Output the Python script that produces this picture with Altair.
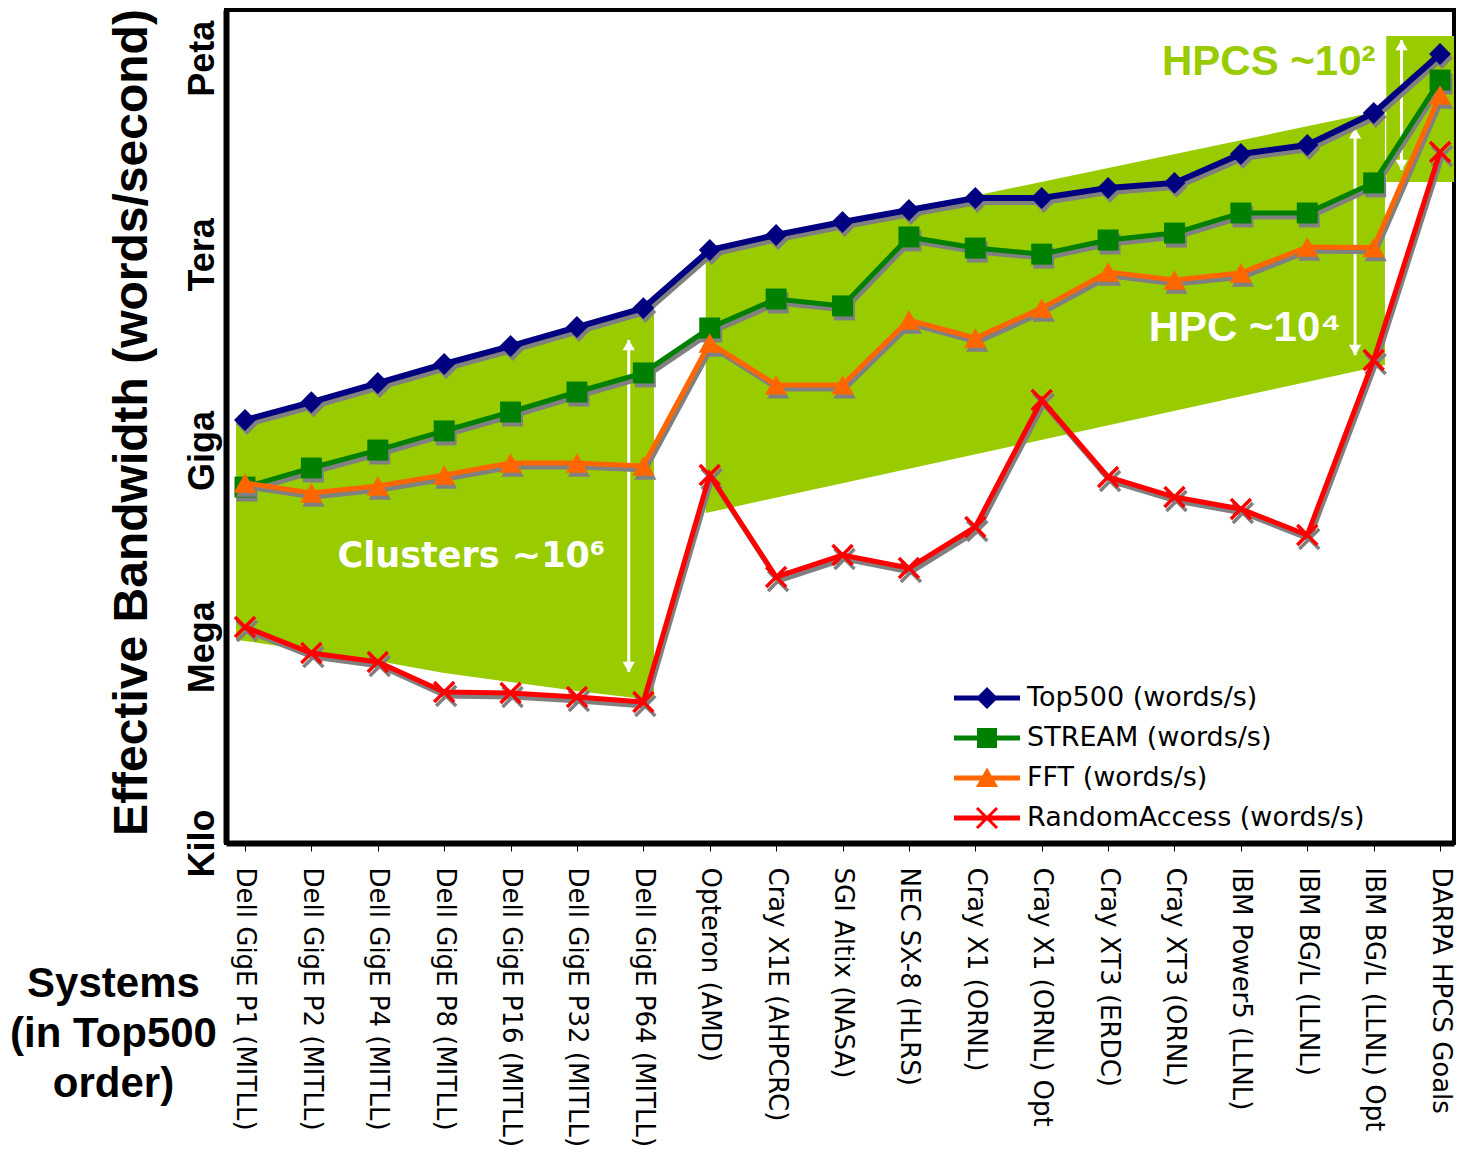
import json
import altair as alt
import pandas as pd

systems = [
    "Dell GigE P1 (MITLL)", "Dell GigE P2 (MITLL)", "Dell GigE P4 (MITLL)",
    "Dell GigE P8 (MITLL)", "Dell GigE P16 (MITLL)", "Dell GigE P32 (MITLL)",
    "Dell GigE P64 (MITLL)", "Opteron (AMD)", "Cray X1E (AHPCRC)",
    "SGI Altix (NASA)", "NEC SX-8 (HLRS)", "Cray X1 (ORNL)", "Cray X1 (ORNL) Opt",
    "Cray XT3 (ERDC)", "Cray XT3 (ORNL)", "IBM Power5 (LLNL)", "IBM BG/L (LLNL)",
    "IBM BG/L (LLNL) Opt", "DARPA HPCS Goals",
]

top500 = [2.94e9, 5.5e9, 1.08e10, 2.11e10, 3.97e10, 7.76e10, 1.51e11, 1.17e12,
          1.98e12, 3.13e12, 4.77e12, 7.28e12, 7.28e12, 1.04e13, 1.24e13, 3.43e13,
          4.71e13, 1.45e14, 1.16e15]
stream = [2.77e8, 5.42e8, 1.02e9, 2.0e9, 3.89e9, 7.87e9, 1.54e10, 7.5e10,
          2.08e11, 1.63e11, 1.85e12, 1.25e12, 1.01e12, 1.66e12, 2.12e12, 4.3e12,
          4.3e12, 1.24e13, 4.64e14]
fft = [3.2e8, 2.25e8, 2.88e8, 4.24e8, 6.46e8, 6.46e8, 5.82e8, 4.42e10,
       1.01e10, 1.01e10, 9.93e10, 5.27e10, 1.51e11, 5.38e11, 4.06e11, 5.2e11,
       1.3e12, 1.27e12, 2.74e14]
randomaccess = [2.01e6, 8.04e5, 5.86e5, 2.04e5, 1.97e5, 1.71e5, 1.43e5, 4.24e8,
                1.17e7, 2.53e7, 1.6e7, 6.79e7, 5.94e9, 3.95e8, 1.95e8, 1.28e8,
                5.12e7, 2.43e10, 3.68e13]

series_names = ["Top500 (words/s)", "STREAM (words/s)", "FFT (words/s)",
                "RandomAccess (words/s)"]
series_values = [top500, stream, fft, randomaccess]
series_colors = ["#000080", "#008000", "#FF6600", "#FF0000"]

# shaded regions (x in system-index units)
clusters_x = [-0.135, 0, 1, 2, 3, 4, 5, 6, 6.16]
clusters_top = [2.8e9] + top500[0:7] + [1.55e11]
clusters_bottom = [1.27e6, 1.23e6, 8.63e5, 6.07e5, 3.97e5, 2.9e5, 2.11e5, 1.59e5, 1.54e5]
hpc_x = [6.94, 17.17]
hpc_top = [1.09e12, 1.61e14]
hpc_bottom = [1.11e8, 2.04e10]
hpcs_x = [17.19, 18.6]
hpcs_y = [1.28e13, 2.19e15]

arrow_x = [5.78, 16.72, 17.42]
arrow_top = [4.9e10, 8.5e13, 1.9e15]
arrow_bottom = [4.12e5, 2.88e10, 1.95e13]

notes = ["Clusters ~10⁶", "HPC ~10⁴", "HPCS ~10²"]
note_x = [3.41, 15.06, 15.42]
note_y = [2.44e7, 7.5e10, 8.75e14]
note_colors = ["white", "white", "#99CC00"]
note_fonts = ["DejaVu Sans", "Liberation Sans", "Liberation Sans"]
note_sizes = [35, 42, 42]

y_tick_values = [1e3, 1e6, 1e9, 1e12, 1e15]
y_tick_labels = ["Kilo", "Mega", "Giga", "Tera", "Peta"]

GREEN = "#99CC00"
SHADOW = "#808080"

x_scale = alt.Scale(domain=[-0.286, 18.21], nice=False, zero=False)
y_scale = alt.Scale(type="log", domain=[1e3, 5.46e15], nice=False)

x_axis = alt.Axis(
    values=list(range(len(systems))),
    labelExpr=json.dumps(systems) + "[round(datum.value)]",
    labelAngle=90, labelAlign="left", labelBaseline="middle",
    labelFont="DejaVu Sans", labelFontSize=26, labelColor="black",
    labelPadding=16, labelLimit=0, labelOverlap=False, labelFlush=False,
    tickSize=8, tickColor="black", tickWidth=1,
    domainColor="black", domainWidth=6, grid=False,
    title=["Systems", "(in Top500", "order)"],
    titleFont="Liberation Sans", titleFontWeight="bold", titleFontSize=42,
    titleColor="black", titleAngle=0, titleAlign="center", titleBaseline="top",
    titleX=-113, titleY=120, titleLineHeight=50,
)
y_axis = alt.Axis(
    values=y_tick_values,
    labelExpr=json.dumps(y_tick_labels) + "[round(log(datum.value)/log(10)/3) - 1]",
    labelAngle=270, labelAlign="center", labelBaseline="alphabetic",
    labelFont="Liberation Sans", labelFontWeight="bold", labelFontSize=36,
    labelColor="black", labelPadding=13, ticks=False, tickSize=0,
    domainColor="black", domainWidth=6, grid=False, labelOverlap=False,
    title="Effective Bandwidth (words/second)",
    titleFont="Liberation Sans", titleFontWeight="bold", titleFontSize=48,
    titleColor="black", titleAngle=270, titleAlign="center",
    titleBaseline="alphabetic", titleX=-80, titleY=412,
)


def X(f):
    return alt.X(f, type="quantitative", scale=x_scale, axis=x_axis)


def Y(f):
    return alt.Y(f, type="quantitative", scale=y_scale, axis=y_axis)


layers = []

clusters_df = pd.DataFrame({"x": clusters_x, "top": clusters_top, "bottom": clusters_bottom})
layers.append(alt.Chart(clusters_df).mark_area(color=GREEN, opacity=1).encode(
    x=X("x"), y=Y("top"), y2="bottom"))

hpc_df = pd.DataFrame({"x": hpc_x, "top": hpc_top, "bottom": hpc_bottom})
layers.append(alt.Chart(hpc_df).mark_area(color=GREEN, opacity=1).encode(
    x=X("x"), y=Y("top"), y2="bottom"))

hpcs_df = pd.DataFrame({"x1": [hpcs_x[0]], "x2": [hpcs_x[1]], "y1": [hpcs_y[0]], "y2": [hpcs_y[1]]})
layers.append(alt.Chart(hpcs_df).mark_rect(color=GREEN, clip=True).encode(
    x=X("x1"), x2="x2", y=Y("y1"), y2="y2"))

arrows_df = pd.DataFrame({"x": arrow_x, "top": arrow_top, "bottom": arrow_bottom})
layers.append(alt.Chart(arrows_df).mark_rule(color="white", strokeWidth=3).encode(
    x=X("x"), y=Y("top"), y2="bottom"))
layers.append(alt.Chart(arrows_df).mark_point(
    shape="triangle-up", filled=True, color="white", size=150, opacity=1, yOffset=5
).encode(x=X("x"), y=Y("top")))
layers.append(alt.Chart(arrows_df).mark_point(
    shape="triangle-down", filled=True, color="white", size=150, opacity=1, yOffset=-5
).encode(x=X("x"), y=Y("bottom")))

marker_specs = [
    dict(shape="diamond", filled=True, size=480),
    dict(shape="square", filled=True, size=440),
    dict(shape="triangle-up", filled=True, size=500),
    dict(shape="M-1,-1L1,1M1,-1L-1,1", filled=False, size=400, strokeWidth=3.5),
]
line_widths = [6, 5, 5, 5]

long_rows = []
for name, vals, color, mspec, lw in zip(series_names, series_values, series_colors,
                                         marker_specs, line_widths):
    df = pd.DataFrame({"x": list(range(len(systems))), "v": vals})
    for i, v in enumerate(vals):
        long_rows.append({"series": name, "x": i, "v": v})
    # shadow
    layers.append(alt.Chart(df).mark_line(color=SHADOW, strokeWidth=lw, xOffset=2, yOffset=4)
                  .encode(x=X("x"), y=Y("v")))
    layers.append(alt.Chart(df).mark_point(color=SHADOW, opacity=1, xOffset=2, yOffset=4, **mspec)
                  .encode(x=X("x"), y=Y("v")))
    # series
    layers.append(alt.Chart(df).mark_line(color=color, strokeWidth=lw)
                  .encode(x=X("x"), y=Y("v")))
    layers.append(alt.Chart(df).mark_point(color=color, opacity=1, **mspec)
                  .encode(x=X("x"), y=Y("v")))

for t, xx, yy, c, f, s in zip(notes, note_x, note_y, note_colors, note_fonts, note_sizes):
    ndf = pd.DataFrame({"x": [xx], "y": [yy], "t": [t]})
    layers.append(alt.Chart(ndf).mark_text(
        font=f, fontSize=s, fontWeight="bold", color=c, align="center", baseline="middle"
    ).encode(x=X("x"), y=Y("y"), text="t"))

# legend (line + marker symbols as custom paths)
legend_paths = [
    "M-1.65,-0.13H1.65V0.13H-1.65Z M0,-0.55L0.55,0L0,0.55L-0.55,0Z",
    "M-1.65,-0.13H1.65V0.13H-1.65Z M-0.5,-0.5H0.5V0.5H-0.5Z",
    "M-1.65,-0.13H1.65V0.13H-1.65Z M0,-0.52L0.56,0.45H-0.56Z",
    "M-1.65,-0.13H1.65V0.13H-1.65Z "
    "M-0.447,-0.553L0.553,0.447L0.447,0.553L-0.553,-0.447Z "
    "M0.553,-0.447L-0.447,0.553L-0.553,0.447L0.447,-0.553Z",
]
legend_def = alt.Legend(
    orient="none", legendX=741, legendY=668, title=None,
    symbolSize=1600, symbolStrokeWidth=0, symbolOpacity=1,
    labelFont="DejaVu Sans", labelFontSize=27, labelColor="black",
    labelOffset=20, labelLimit=0, rowPadding=7, padding=0,
)
long_df = pd.DataFrame(long_rows)
layers.append(alt.Chart(long_df).mark_point(filled=True, opacity=0, size=10).encode(
    x=X("x"), y=Y("v"),
    color=alt.Color("series:N", scale=alt.Scale(domain=series_names, range=series_colors),
                    legend=legend_def),
    shape=alt.Shape("series:N", scale=alt.Scale(domain=series_names, range=legend_paths),
                    legend=legend_def),
))

chart = alt.layer(*layers).properties(
    width=1228, height=833,
    autosize=alt.AutoSizeParams(type="none"),
    padding={"left": 218, "top": 2, "right": 4, "bottom": 306},
    background="white",
).configure_view(stroke="black", strokeWidth=4)

chart.save("out.html", embed_options={"renderer": "svg", "actions": False})
